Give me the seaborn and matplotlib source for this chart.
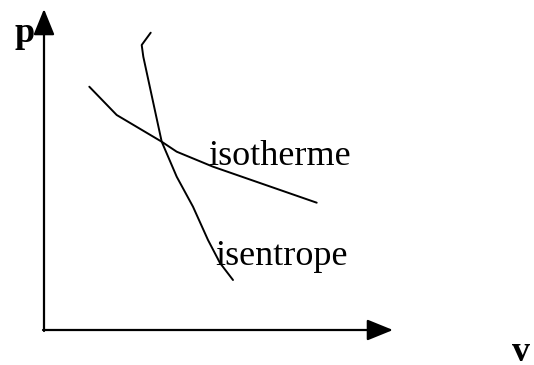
import matplotlib
matplotlib.use("Agg")
import matplotlib.pyplot as plt
import seaborn as sns
import pandas as pd

# curve data (v, p) in diagram units, origin at axes corner
isotherme_v = [45.3, 72.7, 117.7, 132.7, 169.0, 272.7]
isotherme_p = [243.3, 215.0, 188.3, 178.3, 163.3, 127.3]
isentrope_v = [106.7, 97.7, 99.3, 117.7, 132.7, 149.0, 164.0, 176.0, 189.0]
isentrope_p = [297.3, 285.0, 273.3, 188.3, 153.3, 123.3, 90.0, 67.0, 50.0]
labels = ["isotherme", "isentrope"]
axis_labels = ["p", "v"]

sns.set_style("white")
plt.rcParams["font.family"] = ["Liberation Serif", "DejaVu Serif"]
plt.rcParams["text.color"] = "black"

fig = plt.figure(figsize=(5.34, 3.65), dpi=100)
ax = fig.add_axes([0, 0, 1, 1])
ax.set_xlim(-44, 490)
ax.set_ylim(-35, 330)
ax.axis("off")

df1 = pd.DataFrame({"v": isotherme_v, "p": isotherme_p})
df2 = pd.DataFrame({"v": isentrope_v, "p": isentrope_p})
sns.lineplot(data=df1, x="v", y="p", sort=False, color="black", lw=1.4, ax=ax)
sns.lineplot(data=df2, x="v", y="p", sort=False, color="black", lw=1.4, ax=ax)

arrow = dict(arrowstyle="-|>,head_length=1.6,head_width=0.65", color="black",
             lw=1.6, mutation_scale=10, shrinkA=0, shrinkB=0)
ax.annotate("", xy=(0, 321), xytext=(0, -1), arrowprops=arrow)
ax.annotate("", xy=(349, 0), xytext=(-1, 0), arrowprops=arrow)

ax.text(164, 165, labels[0], fontsize=26, color="black", va="baseline", ha="left")
ax.text(171, 65, labels[1], fontsize=26, color="black", va="baseline", ha="left")
ax.text(-30, 288, axis_labels[0], fontsize=26, fontweight="bold", color="black",
        va="baseline", ha="left")
ax.text(468, -31, axis_labels[1], fontsize=26, fontweight="bold", color="black",
        va="baseline", ha="left")

fig.savefig("out.png", dpi=100)
